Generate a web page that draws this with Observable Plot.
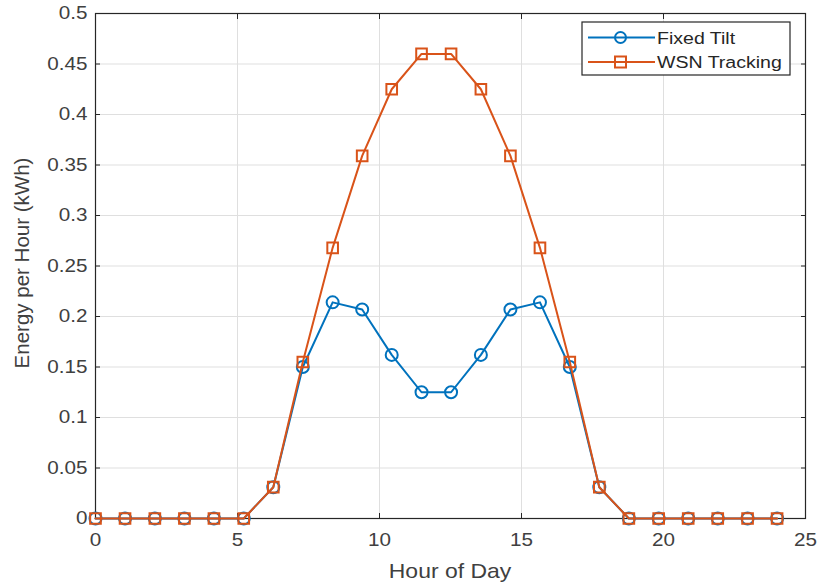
<!DOCTYPE html>
<html>
<head>
<meta charset="utf-8">
<script src="https://cdn.jsdelivr.net/npm/d3@7"></script>
<script src="https://cdn.jsdelivr.net/npm/@observablehq/plot@0.6"></script>
<style>
  html, body { margin: 0; padding: 0; background: #fff; }
  #chart { position: relative; width: 817px; height: 583px; }
  svg { font-family: "Liberation Sans", Arial, sans-serif; }
  g[aria-label$="tick label"] { font-size: 17.5px !important; }
</style>
</head>
<body>
<div id="chart"></div>
<script>
const hours = [0, 1.04, 2.09, 3.13, 4.17, 5.22, 6.26, 7.30, 8.35, 9.39, 10.43, 11.48,
               12.52, 13.57, 14.61, 15.65, 16.70, 17.74, 18.78, 19.83, 20.87, 21.91, 22.96, 24];
const fixedTilt = [0, 0, 0, 0, 0, 0, 0.031, 0.150, 0.214, 0.207, 0.162, 0.125,
                   0.125, 0.162, 0.207, 0.214, 0.150, 0.031, 0, 0, 0, 0, 0, 0];
const wsnTracking = [0, 0, 0, 0, 0, 0, 0.031, 0.155, 0.268, 0.359, 0.425, 0.460,
                     0.460, 0.425, 0.359, 0.268, 0.155, 0.031, 0, 0, 0, 0, 0, 0];
const seriesNames = ["Fixed Tilt", "WSN Tracking"];
const seriesColors = ["#0072BD", "#D95319"];
const xTicks = [0, 5, 10, 15, 20, 25];
const yTicks = [0, 0.05, 0.1, 0.15, 0.2, 0.25, 0.3, 0.35, 0.4, 0.45, 0.5];

const fixedData = hours.map((h, i) => ({h, v: fixedTilt[i]}));
const wsnData = hours.map((h, i) => ({h, v: wsnTracking[i]}));

const textColor = "#262626";
const labelColor = "#404040";
const gridColor = "#dfdfdf";

const plot = Plot.plot({
  width: 817,
  height: 583,
  marginLeft: 95,
  marginRight: 12,
  marginTop: 13,
  marginBottom: 65,
  style: {fontFamily: "Liberation Sans, Arial, sans-serif", color: textColor, background: "#fff"},
  x: {domain: [0, 25]},
  y: {domain: [0, 0.5]},
  marks: [
    Plot.gridX(xTicks, {stroke: gridColor, strokeOpacity: 1}),
    Plot.gridY(yTicks, {stroke: gridColor, strokeOpacity: 1}),
    Plot.axisX(xTicks, {anchor: "bottom", tickSize: -5, tickPadding: 20, fill: labelColor, stroke: textColor, label: null}),
    Plot.axisX(xTicks, {anchor: "top", tickSize: -5, tickFormat: () => "", stroke: textColor, label: null}),
    Plot.axisY(yTicks, {anchor: "left", tickSize: -5, tickPadding: 13, fill: labelColor, stroke: textColor, label: null,
      tickFormat: d => String(d)}),
    Plot.axisY(yTicks, {anchor: "right", tickSize: -5, tickFormat: () => "", stroke: textColor, label: null}),
    Plot.frame({stroke: textColor, strokeWidth: 1.2}),
    Plot.line(fixedData, {x: "h", y: "v", stroke: seriesColors[0], strokeWidth: 2}),
    Plot.dot(fixedData, {x: "h", y: "v", r: 6, symbol: "circle", stroke: seriesColors[0], strokeWidth: 2, fill: "none"}),
    Plot.line(wsnData, {x: "h", y: "v", stroke: seriesColors[1], strokeWidth: 2}),
    Plot.dot(wsnData, {x: "h", y: "v", r: 6, symbol: "square", stroke: seriesColors[1], strokeWidth: 2, fill: "none"}),
  ]
});

document.getElementById("chart").appendChild(plot);

const svg = d3.select(plot);

// widen tick labels horizontally (scale about each label's own anchor point)
const S = 1.18;
svg.selectAll('g[aria-label$="tick label"] text').each(function() {
  const xl = this.x.baseVal;
  const x = xl.numberOfItems ? xl.getItem(0).value : 0;
  if (xl.numberOfItems) xl.getItem(0).value = x / S;
  const tl = this.transform.baseVal;
  const m = this.ownerSVGElement.createSVGMatrix().translate(x, 0).scaleNonUniform(S, 1).translate(-x, 0);
  // after this, a point at local x' maps to x + (x' - x)*S ; with x' = x/S ... compensate below
  if (xl.numberOfItems) xl.getItem(0).value = x;
  tl.appendItem(tl.createSVGTransformFromMatrix(m));
});

// Axis labels
svg.append("text")
  .attr("transform", "translate(450,578) scale(1.12,1)")
  .attr("text-anchor", "middle")
  .attr("font-size", 20.5).attr("fill", labelColor)
  .text("Hour of Day");
svg.append("text")
  .attr("transform", "translate(29,263) rotate(-90)")
  .attr("text-anchor", "middle")
  .attr("font-size", 20.5).attr("fill", labelColor)
  .text("Energy per Hour (kWh)");

// Legend
const lg = svg.append("g").attr("transform", "translate(582,22)");
lg.append("rect").attr("width", 208).attr("height", 53)
  .attr("fill", "#fff").attr("stroke", textColor).attr("stroke-width", 1.2);
seriesNames.forEach((name, i) => {
  const y = 15.5 + i * 24.5;
  const g = lg.append("g").attr("transform", `translate(0,${y})`);
  g.append("line").attr("x1", 6).attr("x2", 73).attr("y1", 0).attr("y2", 0)
    .attr("stroke", seriesColors[i]).attr("stroke-width", 2);
  if (i === 0) {
    g.append("circle").attr("cx", 38.5).attr("cy", 0).attr("r", 5.5)
      .attr("fill", "none").attr("stroke", seriesColors[i]).attr("stroke-width", 2);
  } else {
    g.append("rect").attr("x", 33).attr("y", -5.5).attr("width", 11).attr("height", 11)
      .attr("fill", "none").attr("stroke", seriesColors[i]).attr("stroke-width", 2);
  }
  g.append("text")
    .attr("transform", "translate(75,6) scale(1.15,1)")
    .attr("text-anchor", "start")
    .attr("font-size", 17).attr("fill", textColor).text(name);
});
</script>
</body>
</html>
